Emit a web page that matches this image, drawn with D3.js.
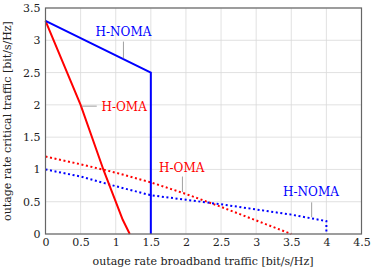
<!DOCTYPE html>
<html>
<head>
<meta charset="utf-8">
<script src="https://cdn.jsdelivr.net/npm/d3@7"></script>
<style>
  body { margin: 0; background: #fff; }
  svg text { font-family: "DejaVu Serif", serif; }
</style>
</head>
<body>
<svg id="chart" width="374" height="272"></svg>
<script>
// data
var xTicks = [0, 0.5, 1, 1.5, 2, 2.5, 3, 3.5, 4, 4.5];
var yTicks = [0, 0.5, 1, 1.5, 2, 2.5, 3, 3.5];

var nomaSolid = [[0, 3.3], [1.5, 2.5], [1.5, 0]];
var omaSolid = [[0, 3.3], [0.5, 2.0], [0.83, 0.98], [1.1, 0.22], [1.2, 0]];
var omaDotted = [[0, 1.2], [0.5, 1.08], [1, 0.95], [1.5, 0.8], [2, 0.62], [2.5, 0.42], [3, 0.21], [3.5, 0]];
var nomaDotted = [[0, 1.0], [0.5, 0.89], [1, 0.74], [1.5, 0.6], [2, 0.53], [2.5, 0.46], [3, 0.38], [3.5, 0.3], [4, 0.2], [4, 0]];

// label text, its anchor point and the pin to the curve
var labels = [
    {text: 'H-NOMA', color: 'blue', at: [1.11, 3.13], pin: [[1.11, 2.98], [1.11, 2.72]]},
    {text: 'H-OMA', color: 'red', at: [1.12, 1.97], pin: [[0.73, 1.98], [0.51, 1.98]]},
    {text: 'H-OMA', color: 'red', at: [1.94, 1.03], pin: [[1.95, 0.89], [1.95, 0.65]]},
    {text: 'H-NOMA', color: 'blue', at: [3.78, 0.65], pin: [[3.79, 0.49], [3.79, 0.26]]}
];

var svg = d3.select('#chart');
var margin = {left: 45.5, right: 12.5, top: 8, bottom: 38};
var width = 374 - margin.left - margin.right,
    height = 272 - margin.top - margin.bottom;

var x = d3.scaleLinear().domain([0, 4.5]).range([0, width]);
var y = d3.scaleLinear().domain([0, 3.5]).range([height, 0]);

var g = svg.append('g').attr('transform', 'translate(' + margin.left + ',' + margin.top + ')');

// grid
g.append('g').selectAll('line').data(xTicks).enter().append('line')
    .attr('x1', function (d) { return x(d); }).attr('x2', function (d) { return x(d); })
    .attr('y1', 0).attr('y2', height)
    .attr('stroke', '#d9d9d9').attr('stroke-width', 0.8);
g.append('g').selectAll('line').data(yTicks).enter().append('line')
    .attr('y1', function (d) { return y(d); }).attr('y2', function (d) { return y(d); })
    .attr('x1', 0).attr('x2', width)
    .attr('stroke', '#d9d9d9').attr('stroke-width', 0.8);

// axes
var xAxis = g.append('g').attr('transform', 'translate(0,' + height + ')')
    .call(d3.axisBottom(x).tickValues(xTicks).tickSize(0).tickPadding(4).tickFormat(d3.format('')));
var yAxis = g.append('g')
    .call(d3.axisLeft(y).tickValues(yTicks).tickSize(0).tickPadding(5).tickFormat(d3.format('')));
[xAxis, yAxis].forEach(function (a) {
    a.attr('font-family', null);
    a.select('.domain').remove();
    a.selectAll('text').attr('font-size', 11).attr('fill', '#222');
});

// curves
var line = d3.line().x(function (d) { return x(d[0]); }).y(function (d) { return y(d[1]); });
var series = [
    {data: omaDotted, color: 'red', dash: '2,2.6'},
    {data: nomaDotted, color: 'blue', dash: '2,2.6'},
    {data: omaSolid, color: 'red', dash: null},
    {data: nomaSolid, color: 'blue', dash: null}
];
series.forEach(function (s) {
    g.append('path').datum(s.data)
        .attr('d', line)
        .attr('fill', 'none')
        .attr('stroke', s.color)
        .attr('stroke-width', 2)
        .attr('stroke-dasharray', s.dash);
});

// frame
g.append('rect').attr('width', width).attr('height', height)
    .attr('fill', 'none').attr('stroke', '#666').attr('stroke-width', 1.2);

// annotations
labels.forEach(function (l) {
    g.append('path').datum(l.pin).attr('d', line)
        .attr('stroke', '#888').attr('stroke-width', 0.8).attr('fill', 'none');
    g.append('text')
        .attr('x', x(l.at[0])).attr('y', y(l.at[1]))
        .attr('text-anchor', 'middle').attr('dy', '0.35em')
        .attr('font-size', 12).attr('fill', l.color)
        .text(l.text);
});

// axis titles
svg.append('text')
    .attr('x', margin.left + width / 2 - 0.5).attr('y', 265)
    .attr('text-anchor', 'middle').attr('font-size', 11).attr('fill', '#222')
    .text('outage rate broadband traffic [bit/s/Hz]');
svg.append('text')
    .attr('transform', 'translate(11,' + (margin.top + height / 2) + ') rotate(-90)')
    .attr('text-anchor', 'middle').attr('font-size', 11).attr('fill', '#222')
    .text('outage rate critical traffic [bit/s/Hz]');
</script>
</body>
</html>
